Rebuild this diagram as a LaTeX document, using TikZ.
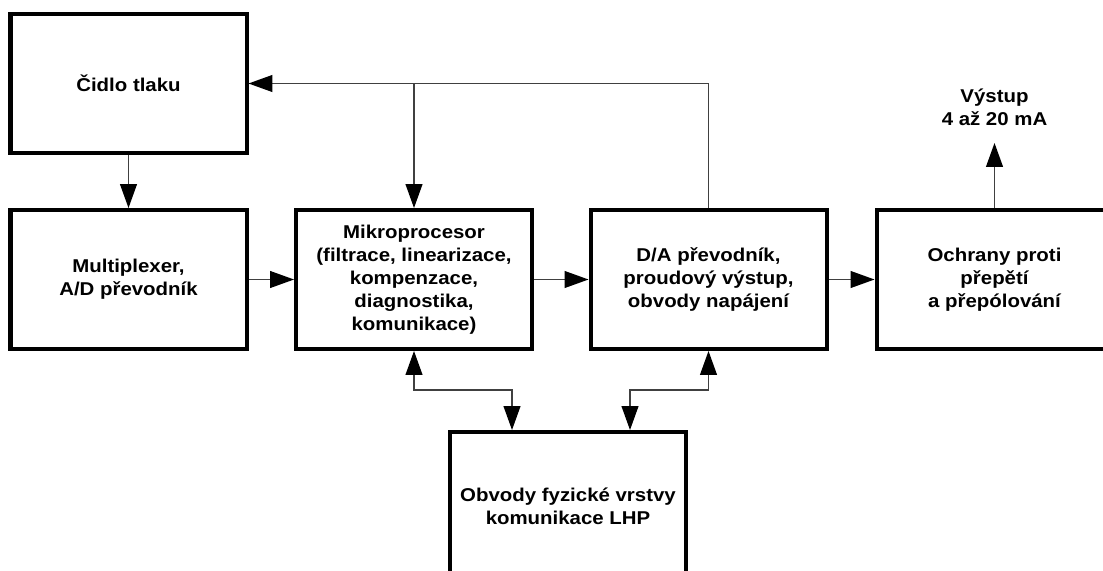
\documentclass[tikz,border=0pt]{standalone}
\usepackage{fontspec}
\setmainfont{Liberation Sans}[FakeStretch=1.1]
\usepackage{tikz}
\usetikzlibrary{arrows.meta,positioning,calc}

\begin{document}
\begin{tikzpicture}[
  >={Triangle[length=17pt, width=12pt, color=black]},
  font=\fontsize{13.2}{16.4}\selectfont\bfseries,
  block/.style={draw, line width=2.85pt, minimum width=5.9cm,
                minimum height=3.475cm, align=center, inner sep=2pt},
  link/.style={draw=black!75, line width=0.9pt},
]
\useasboundingbox (0,0) rectangle (27.575,14.25);

%─── Blocks ──────────────────────────────────────────────────────────────────
\node[block] (cidlo) at (3.2125, 12.1625) {Čidlo tlaku};
\node[block] (mux)   at (3.2125, 7.2625)  {Multiplexer,\\A/D převodník};
\node[block] (mikro) at (10.35, 7.2625)   {Mikroprocesor\\(filtrace, linearizace,\\kompenzace,\\diagnostika,\\komunikace)};
\node[block] (da)    at (17.7125, 7.2625) {D/A převodník,\\proudový výstup,\\obvody napájení};
\node[block] (ochr)  at (24.8625, 7.2625) {Ochrany proti\\přepětí\\a přepólování};
% bottom edge runs off the page
\node[block, minimum height=3.7cm] (comm) at (14.2, 1.6) {Obvody fyzické vrstvy\\komunikace LHP};

% output label
\node[align=center] (vystup) at (24.8625, 11.575) {Výstup\\4 až 20 mA};
\coordinate (outtip) at (24.8625, 10.675);

%─── Signal chain ────────────────────────────────────────────────────────────
\draw[link, ->] (cidlo.south) -- (mux.north);
\draw[link, ->] (mux.east)    -- (mikro.west);
\draw[link, ->] (mikro.east)  -- (da.west);
\draw[link, ->] (da.east)     -- (ochr.west);
\draw[link, ->] (ochr.north)  -- (outtip);

%─── Feedback to sensor and processor ────────────────────────────────────────
\draw[link, ->] (da.north) |- (cidlo.east);
\draw[link, ->] (mikro.north |- cidlo.east) -- (mikro.north);

%─── Communication bus ───────────────────────────────────────────────────────
\coordinate (busL) at (12.8, 4.5);
\coordinate (busR) at (15.75, 4.5);
\draw[link, <->] (mikro.south) |- (busL) -- (busL |- comm.north);
\draw[link, <->] (da.south)    |- (busR) -- (busR |- comm.north);

\end{tikzpicture}
\end{document}
